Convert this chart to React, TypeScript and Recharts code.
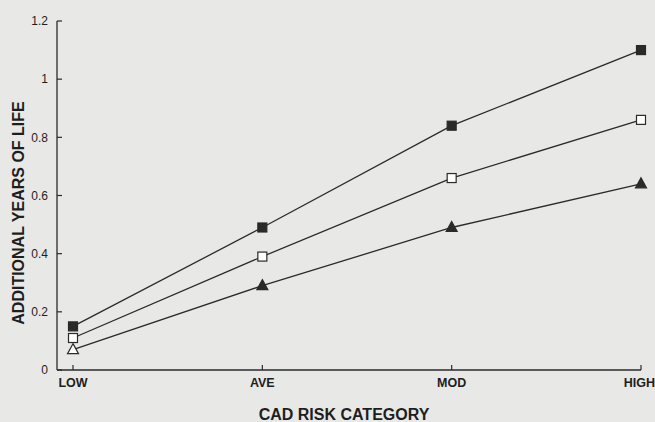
import { LineChart, Line, XAxis, YAxis, Label } from "recharts";

const categories = ["LOW", "AVE", "MOD", "HIGH"];
const filledSquare = [0.15, 0.49, 0.84, 1.1];
const openSquare = [0.11, 0.39, 0.66, 0.86];
const triangle = [0.07, 0.29, 0.49, 0.64];
const yTicks = [0, 0.2, 0.4, 0.6, 0.8, 1, 1.2];

const data = categories.map((cat, i) => ({
  cat,
  filled: filledSquare[i],
  open: openSquare[i],
  tri: triangle[i],
}));

const INK = "#2a2a2a";
const BG = "#e8e8e6";
const FONT = "Arial, 'Liberation Sans', sans-serif";

const squareDot = (fill: string) => (p: any) => (
  <rect
    key={p.index}
    x={p.cx - 4.5}
    y={p.cy - 4.5}
    width={9}
    height={9}
    fill={fill}
    stroke={INK}
    strokeWidth={1.2}
  />
);

const triangleDot = (p: any) => {
  // the LOW point is drawn hollow in the original
  const hollow = p.index === 0;
  return (
    <path
      key={p.index}
      d={`M${p.cx},${p.cy - 6} L${p.cx + 5.5},${p.cy + 4} L${p.cx - 5.5},${p.cy + 4} Z`}
      fill={hollow ? "#fff" : INK}
      stroke={INK}
      strokeWidth={1.2}
    />
  );
};

export default function App() {
  return (
    <div style={{ position: "absolute", left: 0, top: 0, width: 655, height: 422, background: BG }}>
      <LineChart
        width={655}
        height={422}
        data={data}
        margin={{ top: 21, right: 14, bottom: 22, left: 0 }}
        style={{ fontFamily: FONT }}
      >
        <XAxis
          dataKey="cat"
          padding={{ left: 16, right: 0 }}
          height={30}
          tickSize={-5}
          tickMargin={13}
          axisLine={{ stroke: INK, strokeWidth: 1.3 }}
          tickLine={{ stroke: INK, strokeWidth: 1.2 }}
          tick={{ fill: "#1e1e1e", fontSize: 12.5, fontWeight: 600 }}
        >
          <Label
            content={() => (
              <text x={344} y={420} textAnchor="middle" fill="#1e1e1e" fontSize={16} fontWeight={600} fontFamily={FONT}>
                CAD RISK CATEGORY
              </text>
            )}
          />
        </XAxis>
        <YAxis
          width={57}
          domain={[0, 1.2]}
          ticks={yTicks}
          tickSize={-5}
          tickMargin={14}
          axisLine={{ stroke: INK, strokeWidth: 1.3 }}
          tickLine={{ stroke: INK, strokeWidth: 1.2 }}
          tick={{ fill: "#1e1e1e", fontSize: 12 }}
        >
          <Label
            content={() => (
              <text
                x={18}
                y={213}
                transform="rotate(-90, 18, 213)"
                textAnchor="middle"
                dominantBaseline="central"
                fill="#1e1e1e"
                fontSize={16}
                fontWeight={600}
                fontFamily={FONT}
              >
                ADDITIONAL YEARS OF LIFE
              </text>
            )}
          />
        </YAxis>
        <Line dataKey="filled" stroke={INK} strokeWidth={1.3} dot={squareDot(INK)} isAnimationActive={false} />
        <Line dataKey="open" stroke={INK} strokeWidth={1.3} dot={squareDot("#fff")} isAnimationActive={false} />
        <Line dataKey="tri" stroke={INK} strokeWidth={1.3} dot={triangleDot} isAnimationActive={false} />
      </LineChart>
    </div>
  );
}
